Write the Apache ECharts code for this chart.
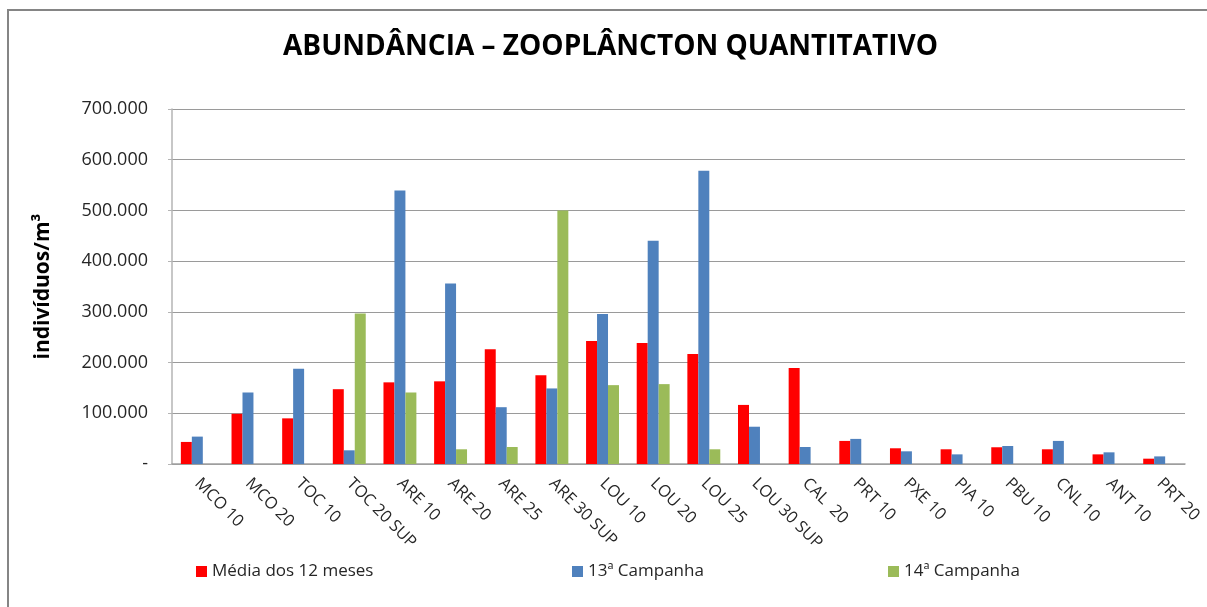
<!DOCTYPE html>
<html>
<head>
<meta charset="utf-8">
<script src="https://cdn.jsdelivr.net/npm/echarts@6/dist/echarts.min.js"></script>
<style>
  html, body { margin: 0; padding: 0; background: #fff; }
  #chart { width: 1207px; height: 607px; }
</style>
</head>
<body>
<div id="chart"></div>
<script>
// Sampling stations
const categories = [
  'MCO 10', 'MCO 20', 'TOC 10', 'TOC 20 SUP', 'ARE 10', 'ARE 20', 'ARE 25',
  'ARE 30 SUP', 'LOU 10', 'LOU 20', 'LOU 25', 'LOU 30 SUP', 'CAL  20',
  'PRT 10', 'PXE 10', 'PIA 10', 'PBU 10', 'CNL 10', 'ANT 10', 'PRT 20'
];

// Abundance (individuals per cubic metre)
const media12Meses = [
  43500, 99000, 90000, 147500, 161000, 163000, 226500,
  175000, 242500, 238500, 217000, 116500, 189500,
  45500, 31000, 29000, 33000, 29000, 19000, 10500
];
const campanha13 = [
  54000, 141000, 188000, 27000, 539500, 356000, 112000,
  149000, 296000, 440000, 578000, 73500, 33500,
  49500, 25000, 19000, 35500, 45500, 23000, 15000
];
const campanha14 = [
  null, null, null, 297000, 141000, 29000, 33500,
  500000, 155500, 157500, 29000, null, null,
  null, null, null, null, null, null, null
];

const seriesNames = ['Média dos 12 meses', '13ª Campanha', '14ª Campanha'];
const yTicks = [0, 100000, 200000, 300000, 400000, 500000, 600000, 700000];

const FONT = '"Open Sans", "Noto Sans", sans-serif';
const colors = ['#FF0000', '#4F81BD', '#9BBB59'];

function fmtTick(v) {
  if (v === 0) return '-';
  return Math.round(v / 1000) + '.000';
}

const chart = echarts.init(document.getElementById('chart'), null, { renderer: 'canvas' });

function legendFor(i, left) {
  return {
    data: [seriesNames[i]],
    left: left,
    top: 563,
    icon: 'rect',
    itemWidth: 11,
    itemHeight: 11,
    itemGap: 6,
    textStyle: { fontFamily: FONT, fontSize: 17, color: '#262626', padding: [0, 0, 0, 0] },
    padding: 0
  };
}

chart.setOption({
  backgroundColor: '#ffffff',
  animation: false,
  color: colors,
  title: {
    text: 'ABUNDÂNCIA – ZOOPLÂNCTON QUANTITATIVO',
    left: 283,
    top: 33,
    textStyle: { fontFamily: FONT, fontSize: 28, fontWeight: 'bold', color: '#000' },
    padding: 0
  },
  legend: [legendFor(0, 196), legendFor(1, 572), legendFor(2, 888)],
  grid: { left: 172, right: 22, top: 109, bottom: 143, containLabel: false },
  xAxis: {
    type: 'category',
    data: categories,
    axisLine: { show: true, lineStyle: { color: '#a0a0a0', width: 1.5 } },
    axisTick: { show: false },
    axisLabel: {
      interval: 0,
      rotate: -45,
      margin: 17,
      fontFamily: FONT,
      fontSize: 16.5,
      color: '#262626'
    },
    splitLine: { show: false }
  },
  yAxis: {
    type: 'value',
    min: yTicks[0],
    max: yTicks[yTicks.length - 1],
    interval: 100000,
    name: 'indivíduos/m³',
    nameLocation: 'middle',
    nameRotate: 90,
    nameGap: 118,
    nameTextStyle: { fontFamily: FONT, fontSize: 21, fontWeight: 'bold', color: '#000' },
    axisLine: { show: true, lineStyle: { color: '#b5b5b5', width: 1.5 } },
    axisTick: { show: true, inside: false, length: 4, lineStyle: { color: '#b5b5b5' } },
    axisLabel: {
      margin: 24,
      fontFamily: FONT,
      fontSize: 18,
      color: '#262626',
      formatter: fmtTick
    },
    splitLine: { show: true, lineStyle: { color: '#9a9a9a', width: 1.2 } }
  },
  series: [
    { name: seriesNames[0], type: 'bar', data: media12Meses, barGap: '0%', barCategoryGap: '35%' },
    { name: seriesNames[1], type: 'bar', data: campanha13, barGap: '0%', barCategoryGap: '35%' },
    { name: seriesNames[2], type: 'bar', data: campanha14, barGap: '0%', barCategoryGap: '35%' }
  ],
  graphic: [
    {
      type: 'polyline',
      silent: true,
      shape: { points: [[8, 607], [8, 10], [1207, 10]] },
      style: { stroke: '#858585', lineWidth: 2, fill: null }
    }
  ]
});
</script>
</body>
</html>
